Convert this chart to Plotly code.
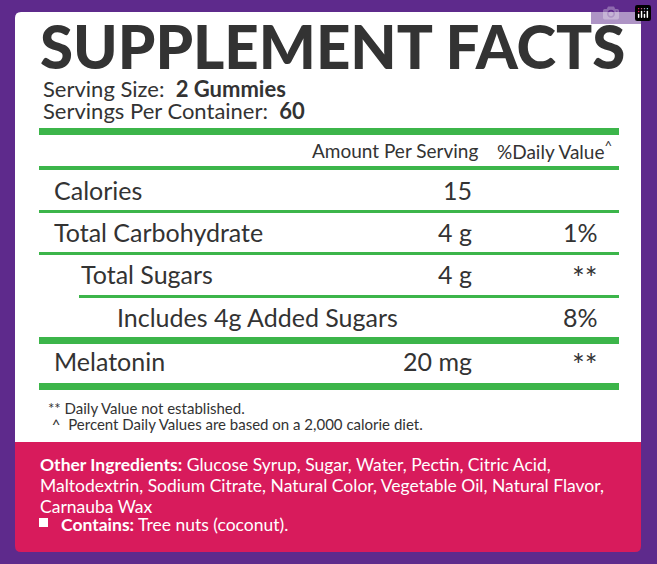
import plotly.graph_objects as go

W, H = 657, 564
nutrients = ["Calories", "Total Carbohydrate", "Total Sugars", "Includes 4g Added Sugars", "Melatonin"]
amounts = ["15", "4 g", "4 g", "", "20 mg"]
daily_values = ["", "1%", "**", "8%", "**"]
indents = [52, 52, 79, 115, 52]
row_y = [190, 232, 274, 317, 361]

fig = go.Figure()
shapes = []
def rr(x0, y0, x1, y1, r, color, corners="all"):
    tl = tr = bl = br = r
    if corners == "top": bl = br = 0
    if corners == "bottom": tl = tr = 0
    p = (f"M{x0+tl},{y0} L{x1-tr},{y0} Q{x1},{y0} {x1},{y0+tr} L{x1},{y1-br} Q{x1},{y1} {x1-br},{y1} "
         f"L{x0+bl},{y1} Q{x0},{y1} {x0},{y1-bl} L{x0},{y0+tl} Q{x0},{y0} {x0+tl},{y0} Z")
    shapes.append(dict(type="path", path=p, fillcolor=color, line=dict(width=0), layer="below"))

shapes.append(dict(type="rect", x0=0, y0=0, x1=W, y1=H, fillcolor="#5e2a8c", line=dict(width=0), layer="below"))
rr(15, 12, 641, 442, 6, "#ffffff", "top")
rr(15, 442, 641, 552, 6, "#d81b5c", "bottom")
G = "#3cb54a"
def hl(x0, y0, y1):
    shapes.append(dict(type="rect", x0=x0, x1=619, y0=y0, y1=y1, fillcolor=G, line=dict(width=0)))
hl(39, 128, 135); hl(39, 166, 170); hl(39, 210, 213); hl(39, 252, 255)
hl(79, 295, 298); hl(39, 337, 344); hl(39, 383, 390)
shapes.append(dict(type="rect", x0=39, x1=48, y0=518, y1=527, fillcolor="white", line=dict(width=0)))

ann = []
def t(x, y, s, size, color="#333333", anchor="left", fam="Lato"):
    ann.append(dict(x=x, y=y, text=s, showarrow=False, xanchor=anchor, yanchor="middle",
                    font=dict(family=fam, size=size, color=color)))
t(38, 46, "<b>SUPPLEMENT FACTS</b>", 60, "#333333", fam="Lato Black, Lato")
t(41, 88, "Serving Size:  <b>2 Gummies</b>", 22)
t(41, 110, "Servings Per Container:  <b>60</b>", 22)
t(480, 150, "Amount Per Serving", 19, anchor="right")
t(614, 150, "%Daily Value<sup>^</sup>", 19, anchor="right")
for n, a, d, x, y in zip(nutrients, amounts, daily_values, indents, row_y):
    t(x, y, n, 25)
    if a: t(474, y, a, 25, anchor="right")
    if d: t(600, y + (3 if d == "**" else 0), d, 25 if d != "**" else 30, anchor="right")
t(46, 408, "** Daily Value not established.", 15)
t(46, 424, " ^  Percent Daily Values are based on a 2,000 calorie diet.", 15)
t(38, 464, "<b>Other Ingredients:</b> Glucose Syrup, Sugar, Water, Pectin, Citric Acid,", 17.5, "white")
t(38, 485, "Maltodextrin, Sodium Citrate, Natural Color, Vegetable Oil, Natural Flavor,", 17.5, "white")
t(38, 506, "Carnauba Wax", 17.5, "white")
t(59, 524, "<b>Contains:</b> Tree nuts (coconut).", 17.5, "white")

fig.update_layout(width=W, height=H, margin=dict(l=0, r=0, t=0, b=0),
                  paper_bgcolor="#5e2a8c", plot_bgcolor="#5e2a8c", shapes=shapes, annotations=ann,
                  xaxis=dict(range=[0, W], visible=False, fixedrange=True),
                  yaxis=dict(range=[H, 0], visible=False, fixedrange=True), showlegend=False)
fig.write_html("out.html")
with open("out.html", encoding="utf-8") as f:
    html = f.read()
html = html.replace("<body>", '<body style="margin:0;overflow:hidden">', 1)
with open("out.html", "w", encoding="utf-8") as f:
    f.write(html)
